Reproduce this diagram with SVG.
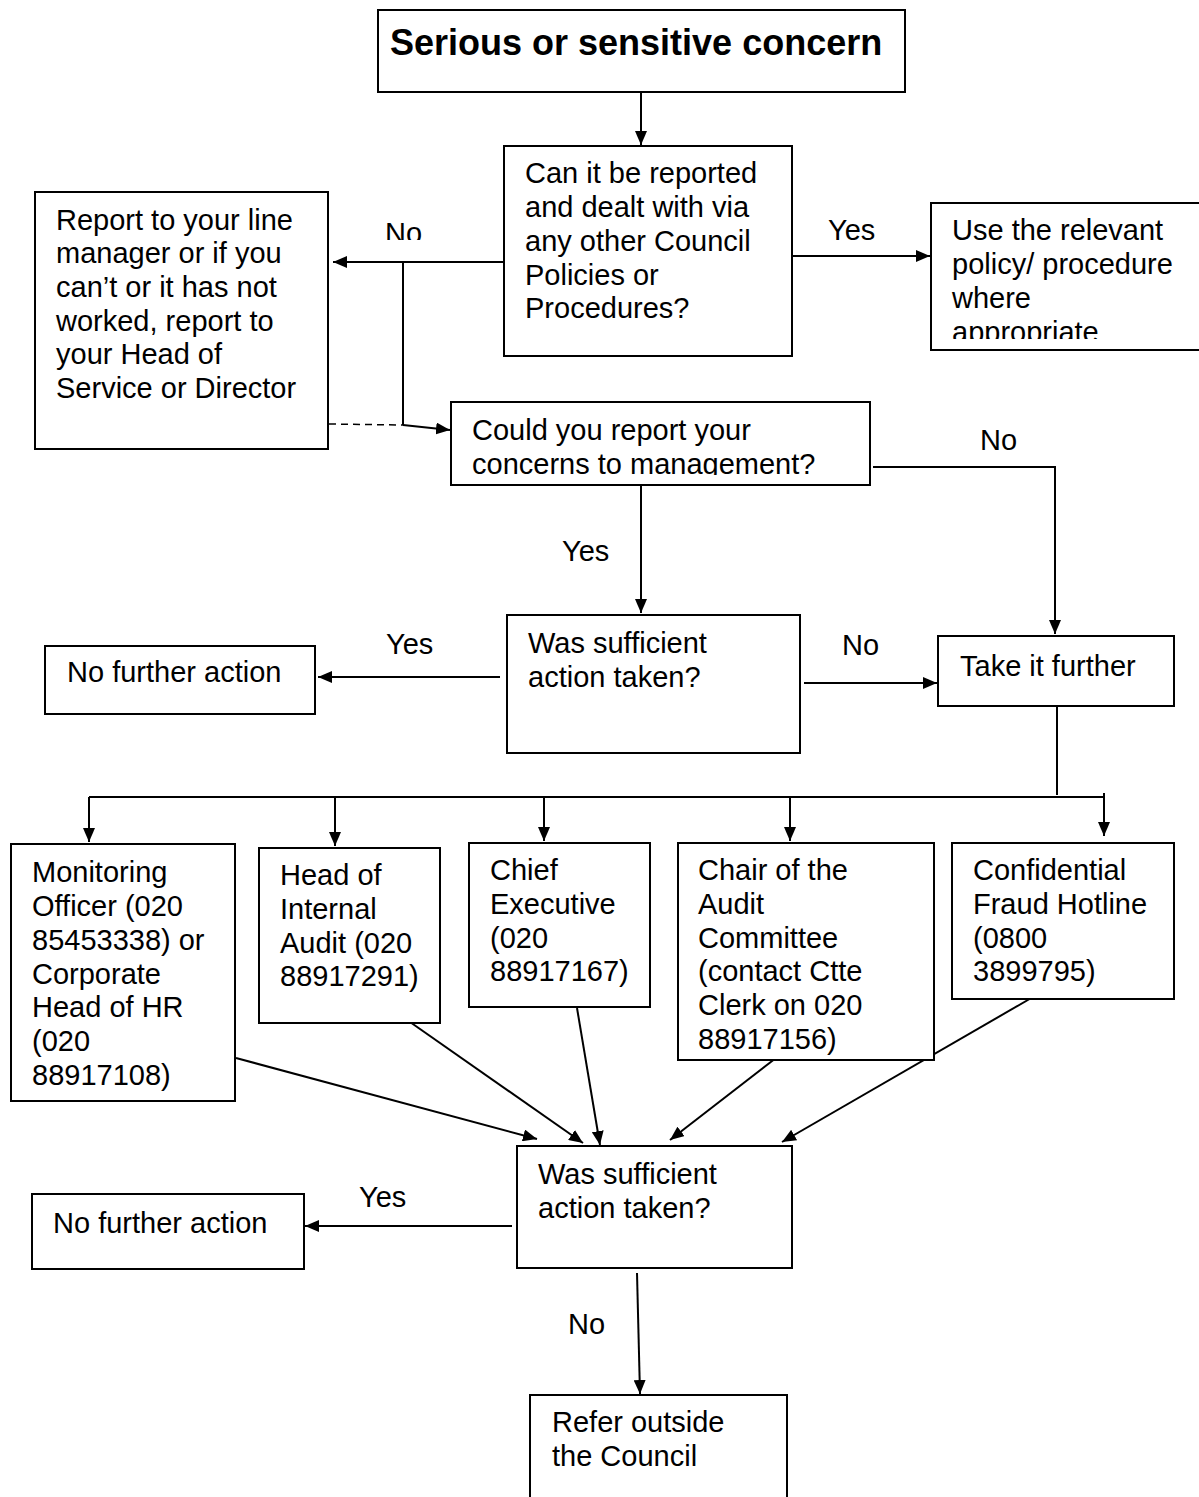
<svg xmlns="http://www.w3.org/2000/svg" width="1199" height="1497" viewBox="0 0 1199 1497">
<style>
.b{fill:#fff;stroke:#000;stroke-width:2}
.t{font-family:"Liberation Sans",Arial,sans-serif;font-size:29px;fill:#000}
.tt{font-family:"Liberation Sans",Arial,sans-serif;font-size:36px;font-weight:bold;fill:#000}
.c{fill:none;stroke:#000;stroke-width:2}
.a{fill:none;stroke:#000;stroke-width:2;marker-end:url(#ah)}
.d{fill:none;stroke:#000;stroke-width:1.5;stroke-dasharray:7,5}
</style>
<defs>
<marker id="ah" viewBox="0 0 14 12" refX="14" refY="6" markerWidth="14" markerHeight="12" orient="auto" markerUnits="userSpaceOnUse"><path d="M0,0 L14,6 L0,12 z" fill="#000"/></marker>
<clipPath id="clipNo"><rect x="370" y="200" width="80" height="40"/></clipPath>
<clipPath id="clipUse"><rect x="932" y="204" width="267" height="135"/></clipPath>
<clipPath id="clipCould"><rect x="452" y="403" width="417" height="72"/></clipPath>
</defs>
<rect width="1199" height="1497" fill="#fff"/>

<g id="connectors">
<line class="a" x1="641" y1="93" x2="641" y2="145"/>
<line class="a" x1="792" y1="256" x2="930" y2="256"/>
<line class="a" x1="510" y1="262" x2="333" y2="262"/>
<polyline class="c" points="403,262 403,425"/>
<line class="a" x1="403" y1="425" x2="450" y2="430"/>
<line class="d" x1="329" y1="424" x2="403" y2="425"/>
<polyline class="a" points="873,467 1055,467 1055,634"/>
<line class="a" x1="641" y1="486" x2="641" y2="613"/>
<line class="a" x1="500" y1="677" x2="318" y2="677"/>
<line class="a" x1="804" y1="683" x2="937" y2="683"/>
<line class="c" x1="1057" y1="707" x2="1057" y2="795"/>
<line class="c" x1="89" y1="797" x2="1104" y2="797"/>
<line class="a" x1="89" y1="797" x2="89" y2="842"/>
<line class="a" x1="335" y1="797" x2="335" y2="846"/>
<line class="a" x1="544" y1="797" x2="544" y2="841"/>
<line class="a" x1="790" y1="797" x2="790" y2="841"/>
<line class="a" x1="1104" y1="793" x2="1104" y2="836"/>
<line class="a" x1="236" y1="1058" x2="537" y2="1139"/>
<line class="a" x1="410" y1="1022" x2="583" y2="1143"/>
<line class="a" x1="577" y1="1008" x2="600" y2="1145"/>
<line class="a" x1="776" y1="1058" x2="670" y2="1140"/>
<line class="a" x1="1033" y1="997" x2="782" y2="1142"/>
<line class="a" x1="512" y1="1226" x2="305" y2="1226"/>
<line class="a" x1="637" y1="1273" x2="640" y2="1394"/>
</g>

<g id="labels">
<text class="t" x="385" y="243" clip-path="url(#clipNo)">No</text>
<text class="t" x="828" y="240">Yes</text>
<text class="t" x="980" y="450">No</text>
<text class="t" x="562" y="561">Yes</text>
<text class="t" x="386" y="654">Yes</text>
<text class="t" x="842" y="655">No</text>
<text class="t" x="359" y="1207">Yes</text>
<text class="t" x="568" y="1334">No</text>
</g>

<g id="n-title">
<rect class="b" x="378" y="10" width="527" height="82"/>
<text class="tt" x="390" y="55">Serious or sensitive concern</text>
</g>

<g id="n-canreport">
<rect class="b" x="504" y="146" width="288" height="210"/>
<text class="t" x="525" y="183">Can it be reported</text>
<text class="t" x="525" y="217">and dealt with via</text>
<text class="t" x="525" y="251">any other Council</text>
<text class="t" x="525" y="285">Policies or</text>
<text class="t" x="525" y="318">Procedures?</text>
</g>

<g id="n-use">
<path class="c" d="M1199,203 L931,203 L931,350 L1199,350"/>
<g clip-path="url(#clipUse)">
<text class="t" x="952" y="240">Use the relevant</text>
<text class="t" x="952" y="274">policy/ procedure</text>
<text class="t" x="952" y="308">where</text>
<text class="t" x="952" y="342">appropriate</text>
</g>
</g>

<g id="n-linemanager">
<rect class="b" x="35" y="192" width="293" height="257"/>
<text class="t" x="56" y="230">Report to your line</text>
<text class="t" x="56" y="263">manager or if you</text>
<text class="t" x="56" y="297">can’t or it has not</text>
<text class="t" x="56" y="331">worked, report to</text>
<text class="t" x="56" y="364">your Head of</text>
<text class="t" x="56" y="398">Service or Director</text>
</g>

<g id="n-could">
<rect class="b" x="451" y="402" width="419" height="83"/>
<g clip-path="url(#clipCould)">
<text class="t" x="472" y="440">Could you report your</text>
<text class="t" x="472" y="474">concerns to management?</text>
</g>
</g>

<g id="n-sufficient1">
<rect class="b" x="507" y="615" width="293" height="138"/>
<text class="t" x="528" y="653">Was sufficient</text>
<text class="t" x="528" y="687">action taken?</text>
</g>

<g id="n-nfa1">
<rect class="b" x="45" y="646" width="270" height="68"/>
<text class="t" x="67" y="682">No further action</text>
</g>

<g id="n-further">
<rect class="b" x="938" y="636" width="236" height="70"/>
<text class="t" x="960" y="676">Take it further</text>
</g>

<g id="n-monitoring">
<rect class="b" x="11" y="844" width="224" height="257"/>
<text class="t" x="32" y="882">Monitoring</text>
<text class="t" x="32" y="916">Officer (020</text>
<text class="t" x="32" y="950">85453338) or</text>
<text class="t" x="32" y="984">Corporate</text>
<text class="t" x="32" y="1017">Head of HR</text>
<text class="t" x="32" y="1051">(020</text>
<text class="t" x="32" y="1085">88917108)</text>
</g>

<g id="n-internalaudit">
<rect class="b" x="259" y="848" width="181" height="175"/>
<text class="t" x="280" y="885">Head of</text>
<text class="t" x="280" y="919">Internal</text>
<text class="t" x="280" y="953">Audit (020</text>
<text class="t" x="280" y="986">88917291)</text>
</g>

<g id="n-chief">
<rect class="b" x="469" y="843" width="181" height="164"/>
<text class="t" x="490" y="880">Chief</text>
<text class="t" x="490" y="914">Executive</text>
<text class="t" x="490" y="948">(020</text>
<text class="t" x="490" y="981">88917167)</text>
</g>

<g id="n-chair">
<rect class="b" x="678" y="843" width="256" height="217"/>
<text class="t" x="698" y="880">Chair of the</text>
<text class="t" x="698" y="914">Audit</text>
<text class="t" x="698" y="948">Committee</text>
<text class="t" x="698" y="981">(contact Ctte</text>
<text class="t" x="698" y="1015">Clerk on 020</text>
<text class="t" x="698" y="1049">88917156)</text>
</g>

<g id="n-hotline">
<rect class="b" x="952" y="843" width="222" height="156"/>
<text class="t" x="973" y="880">Confidential</text>
<text class="t" x="973" y="914">Fraud Hotline</text>
<text class="t" x="973" y="948">(0800</text>
<text class="t" x="973" y="981">3899795)</text>
</g>

<g id="n-sufficient2">
<rect class="b" x="517" y="1146" width="275" height="122"/>
<text class="t" x="538" y="1184">Was sufficient</text>
<text class="t" x="538" y="1218">action taken?</text>
</g>

<g id="n-nfa2">
<rect class="b" x="32" y="1194" width="272" height="75"/>
<text class="t" x="53" y="1233">No further action</text>
</g>

<g id="n-refer">
<path class="c" d="M530,1497 L530,1395 L787,1395 L787,1497"/>
<text class="t" x="552" y="1432">Refer outside</text>
<text class="t" x="552" y="1466">the Council</text>
</g>
</svg>
